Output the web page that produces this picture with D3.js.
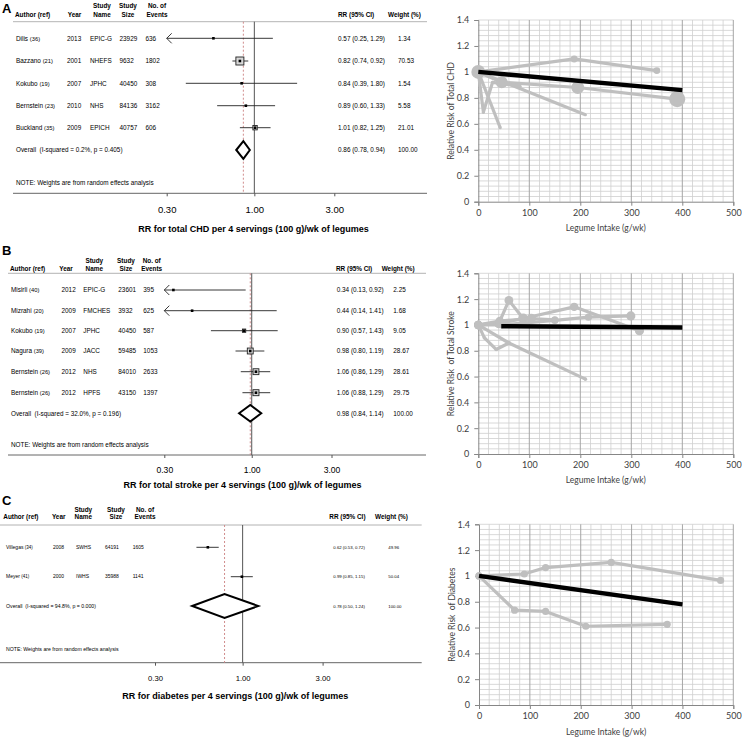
<!DOCTYPE html>
<html>
<head>
<meta charset="utf-8">
<script src="https://cdn.jsdelivr.net/npm/d3@7"></script>
<style>
  body { margin: 0; background: #fff; }
  svg { display: block; }
  .fp text { font-family: "Liberation Sans", Arial, sans-serif; fill: #000; }
  .dr text { font-family: Lato, "Open Sans", sans-serif; fill: #404040; }
</style>
</head>
<body>
<svg id="fig" width="742" height="737"></svg>
<script>
// ---------- forest plot data ----------
const headTop = ["", "", "Study", "Study", "No. of", "", ""];
const headBottom = ["Author (ref)", "Year", "Name", "Size", "Events", "RR (95% CI)", "Weight (%)"];
const noteText = "NOTE: Weights are from random effects analysis";
const forestTicks = [0.3, 1, 3];
const totalWeight = 100;

// A: total CHD
const chdAuthors = ["Dilis", "Bazzano", "Kokubo", "Bernstein", "Buckland"];
const chdRefs = ["(36)", "(21)", "(19)", "(23)", "(35)"];
const chdYears = [2013, 2001, 2007, 2010, 2009];
const chdStudy = ["EPIC-G", "NHEFS", "JPHC", "NHS", "EPICH"];
const chdSize = [23929, 9632, 40450, 84136, 40757];
const chdEvents = [636, 1802, 308, 3162, 606];
const chdRR = [0.57, 0.82, 0.84, 0.89, 1.01];
const chdLo = [0.25, 0.74, 0.39, 0.60, 0.82];
const chdHi = [1.29, 0.92, 1.80, 1.33, 1.25];
const chdWeight = [1.34, 70.53, 1.54, 5.58, 21.01];
const chdOverall = [0.86, 0.78, 0.94];
const chdHet = ["0.2%", "0.405"];

// B: total stroke
const strAuthors = ["Misirli", "Mizrahi", "Kokubo", "Nagura", "Bernstein", "Bernstein"];
const strRefs = ["(40)", "(20)", "(19)", "(39)", "(26)", "(26)"];
const strYears = [2012, 2009, 2007, 2009, 2012, 2012];
const strStudy = ["EPIC-G", "FMCHES", "JPHC", "JACC", "NHS", "HPFS"];
const strSize = [23601, 3932, 40450, 59485, 84010, 43150];
const strEvents = [395, 625, 587, 1053, 2633, 1397];
const strRR = [0.34, 0.44, 0.90, 0.98, 1.06, 1.06];
const strLo = [0.13, 0.14, 0.57, 0.80, 0.86, 0.88];
const strHi = [0.92, 1.41, 1.43, 1.19, 1.29, 1.29];
const strWeight = [2.25, 1.68, 9.05, 28.67, 28.61, 29.75];
const strOverall = [0.98, 0.84, 1.14];
const strHet = ["32.0%", "0.196"];

// C: diabetes
const diaAuthors = ["Villegas", "Meyer"];
const diaRefs = ["(34)", "(41)"];
const diaYears = [2008, 2000];
const diaStudy = ["SWHS", "IWHS"];
const diaSize = [64191, 35988];
const diaEvents = [1605, 1141];
const diaRR = [0.62, 0.99];
const diaLo = [0.53, 0.85];
const diaHi = [0.72, 1.15];
const diaWeight = [49.96, 50.04];
const diaOverall = [0.78, 0.50, 1.24];
const diaHet = ["94.8%", "0.000"];

// ---------- dose-response data (intake g/wk, relative risk, point weight) ----------
const chdIntake = [[0, 188, 350], [0, 46, 195, 390], [0, 210], [0, 10, 28, 82], [0, 43]];
const chdRisk = [[1, 1.10, 1.01], [1, 0.92, 0.88, 0.79], [1, 0.67], [1, 0.69, 0.92, 0.89], [1, 0.57]];
const chdPtW = [[0.15, 0.15, 0.15], [0.6, 0.45, 0.52, 0.8], [0.03, 0.03], [0.03, 0.03, 0.03, 0.03], [0.03, 0.03]];
const chdTrendX = [0, 400];
const chdTrendRR = [1, 0.86];

const strIntake = [[0, 40, 60, 88], [0, 40, 88, 188, 316], [0, 45, 150, 216, 299], [0, 12, 35, 60], [0, 60, 210], [0, 42, 104, 150]];
const strRisk = [[1, 1.01, 1.19, 1.05], [1, 1.01, 1.05, 1.14, 0.955], [1, 1.0, 1.035, 1.06, 1.07], [1, 0.90, 0.81, 0.86], [1, 0.86, 0.58], [1, 1.03, 1.05, 1.04]];
const strPtW = [[0.22, 0.2, 0.24, 0.2], [0.22, 0.25, 0.3, 0.22, 0.26], [0.22, 0.14, 0.16, 0.16, 0.26], [0.22, 0.04, 0.04, 0.05], [0.22, 0.05, 0.04], [0.22, 0.22, 0.27, 0.16]];
const strTrendX = [45, 400];
const strTrendRR = [0.99, 0.98];

const diaIntake = [[0, 89, 131, 260, 475], [0, 70, 131, 210, 370]];
const diaRisk = [[1, 1.015, 1.065, 1.105, 0.965], [1, 0.735, 0.725, 0.61, 0.625]];
const diaPtW = [[0.16, 0.16, 0.16, 0.16, 0.16], [0.16, 0.16, 0.16, 0.16, 0.16]];
const diaTrendX = [0, 400];
const diaTrendRR = [1, 0.78];

const svg = d3.select("#fig");
const f2 = d3.format(".2f");

function drawForest(d, L) {
    const g = svg.append("g").attr("class", "fp");
    const x = d3.scaleLog().domain([0.3, 3]).range(L.range);
    const n = d.rr.length;

    g.append("text").attr("x", 2).attr("y", L.letterY)
        .attr("font-size", 13).attr("font-weight", "bold").text(d.letter);

    // column headers
    const anchors = ["start", "middle", "middle", "middle", "middle", "start", "start"];
    headBottom.forEach((t, i) => {
        g.append("text").attr("x", L.hx[i]).attr("y", L.h1).attr("text-anchor", anchors[i])
            .attr("font-size", 6.4).attr("font-weight", "bold").text(headTop[i]);
        g.append("text").attr("x", L.hx[i]).attr("y", L.h2).attr("text-anchor", anchors[i])
            .attr("font-size", 6.4).attr("font-weight", "bold").text(t);
    });

    // rules
    g.append("line").attr("x1", L.lineX[0]).attr("x2", L.lineX[1])
        .attr("y1", L.ruleY).attr("y2", L.ruleY).attr("stroke", "#a0a0a0").attr("stroke-width", 0.8);
    g.append("line").attr("x1", L.lineX[0]).attr("x2", L.lineX[1])
        .attr("y1", L.axisY).attr("y2", L.axisY).attr("stroke", "#555").attr("stroke-width", 0.9);

    // reference lines
    g.append("line").attr("x1", x(1)).attr("x2", x(1))
        .attr("y1", L.ruleY).attr("y2", L.axisY).attr("stroke", "#555").attr("stroke-width", 1);
    g.append("line").attr("x1", x(d.overall[0])).attr("x2", x(d.overall[0]))
        .attr("y1", L.ruleY).attr("y2", L.axisY).attr("stroke", "#d08c8c")
        .attr("stroke-width", 1).attr("stroke-dasharray", "2,2");

    // row texts
    const fs = L.fRow;
    for (let i = 0; i < n; i++) {
        const yb = L.rows[i] + fs * 0.35;
        const a = g.append("text").attr("x", L.vx[0]).attr("y", yb).attr("font-size", fs);
        a.append("tspan").text(d.authors[i] + " ");
        a.append("tspan").attr("font-size", fs * 0.9).text(d.refs[i]);
        const cells = [d.years[i], d.study[i], d.size[i], d.events[i]];
        cells.forEach((c, j) => {
            g.append("text").attr("x", L.vx[j + 1]).attr("y", yb).attr("font-size", fs).text(c);
        });
        g.append("text").attr("x", L.vx[5]).attr("y", L.rows[i] + L.fRR * 0.35).attr("font-size", L.fRR)
            .text(`${f2(d.rr[i])} (${f2(d.lo[i])}, ${f2(d.hi[i])})`);
        g.append("text").attr("x", L.vx[6]).attr("y", L.rows[i] + L.fRR * 0.35).attr("font-size", L.fRR)
            .text(f2(d.weight[i]));
    }
    g.append("text").attr("x", L.vx[0]).attr("y", L.overallY + L.fNote * 0.35).attr("font-size", L.fNote)
        .attr("xml:space", "preserve")
        .text(`Overall  (I-squared = ${d.het[0]}, p = ${d.het[1]})`);
    g.append("text").attr("x", L.vx[5]).attr("y", L.overallY + L.fRR * 0.35).attr("font-size", L.fRR)
        .text(`${f2(d.overall[0])} (${f2(d.overall[1])}, ${f2(d.overall[2])})`);
    g.append("text").attr("x", L.vx[6]).attr("y", L.overallY + L.fRR * 0.35).attr("font-size", L.fRR)
        .text(f2(totalWeight));
    g.append("text").attr("x", L.vx[0]).attr("y", L.noteY + L.fNote * 0.35).attr("font-size", L.fNote)
        .text(noteText);

    // CI lines, boxes, points
    const maxW = d3.max(d.weight);
    for (let i = 0; i < n; i++) {
        const yc = L.rows[i];
        const lo = Math.max(d.lo[i], 0.3);
        g.append("line").attr("x1", x(lo)).attr("x2", x(d.hi[i])).attr("y1", yc).attr("y2", yc)
            .attr("stroke", "#222").attr("stroke-width", 0.9);
        if (d.lo[i] < 0.3) {
            const ax = x(0.3);
            g.append("path").attr("d", `M${ax + 5},${yc - 5}L${ax},${yc}L${ax + 5},${yc + 5}`)
                .attr("fill", "none").attr("stroke", "#222").attr("stroke-width", 0.9);
        }
        const s = L.boxMax * Math.sqrt(d.weight[i] / maxW);
        if (s > 3) {
            g.append("rect").attr("x", x(d.rr[i]) - s / 2).attr("y", yc - s / 2)
                .attr("width", s).attr("height", s)
                .attr("fill", "#d8d8d8").attr("stroke", "#222").attr("stroke-width", 0.9);
        }
        g.append("rect").attr("x", x(d.rr[i]) - 1.3).attr("y", yc - 1.3)
            .attr("width", 2.6).attr("height", 2.6).attr("fill", "#000");
    }

    // pooled diamond
    const ov = d.overall, hh = L.diamondH;
    g.append("path")
        .attr("d", `M${x(ov[1])},${L.overallY}L${x(ov[0])},${L.overallY - hh}L${x(ov[2])},${L.overallY}L${x(ov[0])},${L.overallY + hh}Z`)
        .attr("fill", "#fff").attr("stroke", "#000").attr("stroke-width", 2);

    // axis
    g.append("g").attr("transform", `translate(0,${L.axisY})`)
        .call(d3.axisBottom(x).tickValues(forestTicks).tickFormat(f2).tickSize(3))
        .call(a => a.select(".domain").remove())
        .call(a => a.selectAll(".tick line").attr("stroke", "#555"))
        .call(a => a.selectAll(".tick text").attr("y", L.tickOff).attr("dy", 0)
            .attr("font-size", L.fTick).attr("font-family", "Liberation Sans, Arial, sans-serif").attr("fill", "#000"));

    g.append("text").attr("x", L.titleX).attr("y", L.titleY).attr("text-anchor", "middle")
        .attr("font-size", 9).attr("font-weight", "bold").text(d.title);
}

function drawDose(L, xs, ys, ws, tx, ty, ylab) {
    const g = svg.append("g").attr("class", "dr");
    const x = d3.scaleLinear().domain([0, 500]).range([L.x0, L.x1]);
    const y = d3.scaleLinear().domain([0, 1.4]).range([L.yb, L.yt]);
    const r = d3.scaleSqrt().domain([0, 1]).range([0, 9]);

    // grid
    g.append("g").selectAll("line").data(d3.range(1, 36).map(i => i * 0.04)).join("line")
        .attr("x1", L.x0).attr("x2", L.x1).attr("y1", d => y(d)).attr("y2", d => y(d))
        .attr("stroke", "#cfcfcf").attr("stroke-width", 0.8);
    g.append("g").selectAll("line").data(d3.range(20, 501, 20).filter(v => v % 100)).join("line")
        .attr("x1", d => x(d)).attr("x2", d => x(d)).attr("y1", L.yt).attr("y2", L.yb)
        .attr("stroke", "#cfcfcf").attr("stroke-width", 0.8);
    g.append("g").selectAll("line").data([100, 200, 300, 400, 500]).join("line")
        .attr("x1", d => x(d)).attr("x2", d => x(d)).attr("y1", L.yt).attr("y2", L.yb)
        .attr("stroke", "#a6a6a6").attr("stroke-width", 1);

    // axes
    g.append("g").attr("transform", `translate(${L.x0},0)`)
        .call(d3.axisLeft(y).tickValues(d3.range(0, 8).map(i => i * 0.2))
            .tickFormat(v => String(+v.toFixed(1))).tickSize(4).tickPadding(5))
        .call(a => a.select(".domain").attr("stroke", "#868686"))
        .call(a => a.selectAll(".tick line").attr("stroke", "#868686"))
        .call(a => a.selectAll(".tick text").attr("font-size", 9)
            .attr("font-family", "Lato, sans-serif").attr("fill", "#404040"));
    g.append("g").attr("transform", `translate(0,${L.yb})`)
        .call(d3.axisBottom(x).tickValues(d3.range(0, 501, 100)).tickSize(4).tickPadding(4))
        .call(a => a.select(".domain").attr("stroke", "#868686"))
        .call(a => a.selectAll(".tick line").attr("stroke", "#868686"))
        .call(a => a.selectAll(".tick text").attr("font-size", 9)
            .attr("font-family", "Lato, sans-serif").attr("fill", "#404040"));

    // study curves
    const line = d3.line().x(p => x(p[0])).y(p => y(p[1]));
    xs.forEach((sx, k) => {
        const pts = sx.map((v, i) => [v, ys[k][i], ws[k][i]]);
        g.append("path").datum(pts).attr("d", line)
            .attr("fill", "none").attr("stroke", "#bfbfbf").attr("stroke-width", 3.2)
            .attr("stroke-linejoin", "round");
        g.append("g").selectAll("circle").data(pts).join("circle")
            .attr("cx", p => x(p[0])).attr("cy", p => y(p[1])).attr("r", p => r(p[2]))
            .attr("fill", "#bfbfbf");
    });

    // pooled trend
    g.append("path").datum(tx.map((v, i) => [v, ty[i]])).attr("d", line)
        .attr("fill", "none").attr("stroke", "#000").attr("stroke-width", 4.4);

    g.append("text").attr("x", (L.x0 + L.x1) / 2).attr("y", L.xtY).attr("text-anchor", "middle")
        .attr("font-size", 8.5).text("Legume Intake (g/wk)");
    g.append("text").attr("transform", `translate(${L.x0 - 24},${(L.yt + L.yb) / 2}) rotate(-90)`)
        .attr("text-anchor", "middle").attr("font-size", 8.5).attr("xml:space", "preserve").text(ylab);
}

drawForest({
    letter: "A", authors: chdAuthors, refs: chdRefs, years: chdYears, study: chdStudy, size: chdSize,
    events: chdEvents, rr: chdRR, lo: chdLo, hi: chdHi, weight: chdWeight, overall: chdOverall, het: chdHet,
    title: "RR for total CHD per 4 servings (100 g)/wk of legumes"
}, {
    letterY: 13, h1: 8.3, h2: 16.6,
    hx: [15, 74.5, 102, 128, 157, 338, 388],
    vx: [16, 67, 90, 119.5, 145.5, 338, 398],
    ruleY: 21.7, axisY: 193.3, lineX: [13, 427],
    rows: [38.3, 61, 83.3, 105.7, 127.7], overallY: 150, noteY: 183,
    range: [166.7, 334.3], tickOff: 19.5, fTick: 9.5,
    titleX: 253.5, titleY: 232,
    fRow: 6.4, fRR: 6.4, fNote: 6.35, boxMax: 8, diamondH: 8.8
});

drawForest({
    letter: "B", authors: strAuthors, refs: strRefs, years: strYears, study: strStudy, size: strSize,
    events: strEvents, rr: strRR, lo: strLo, hi: strHi, weight: strWeight, overall: strOverall, het: strHet,
    title: "RR for total stroke per 4 servings (100 g)/wk of legumes"
}, {
    letterY: 255, h1: 263.3, h2: 270.6,
    hx: [10, 66, 94.3, 126, 151.7, 336, 381.7],
    vx: [11, 61.5, 83.3, 118.3, 143.3, 336.7, 393.3],
    ruleY: 273.3, axisY: 455, lineX: [8, 426],
    rows: [290, 310.7, 330.7, 351, 371.7, 392.7], overallY: 413.3, noteY: 445,
    range: [164.3, 331.5], tickOff: 17.7, fTick: 8.6,
    titleX: 242.5, titleY: 488,
    fRow: 6.4, fRR: 6.4, fNote: 6.35, boxMax: 6, diamondH: 8.3
});

drawForest({
    letter: "C", authors: diaAuthors, refs: diaRefs, years: diaYears, study: diaStudy, size: diaSize,
    events: diaEvents, rr: diaRR, lo: diaLo, hi: diaHi, weight: diaWeight, overall: diaOverall, het: diaHet,
    title: "RR for diabetes per 4 servings (100 g)/wk of legumes"
}, {
    letterY: 505, h1: 512.3, h2: 519.3,
    hx: [3.3, 58.7, 83.3, 116, 145, 329.3, 375],
    vx: [6, 53, 76, 105, 132.7, 333.3, 388.3],
    ruleY: 525, axisY: 662.7, lineX: [0, 421.7],
    rows: [547.3, 576.7], overallY: 606, noteY: 649.3,
    range: [155, 322.6], tickOff: 18.3, fTick: 7.7,
    titleX: 235.3, titleY: 699,
    fRow: 5, fRR: 4.3, fNote: 5.2, boxMax: 0, diamondH: 12
});

drawDose({ x0: 478.3, x1: 733.3, yt: 20, yb: 201.7, xtY: 231 },
    chdIntake, chdRisk, chdPtW, chdTrendX, chdTrendRR, "Relative Risk of Total CHD");
drawDose({ x0: 478.3, x1: 733.3, yt: 273.3, yb: 454, xtY: 482.5 },
    strIntake, strRisk, strPtW, strTrendX, strTrendRR, "Relative Risk  of Total Stroke");
drawDose({ x0: 479, x1: 733.3, yt: 524.3, yb: 705, xtY: 734.5 },
    diaIntake, diaRisk, diaPtW, diaTrendX, diaTrendRR, "Relative Risk  of Diabetes");
</script>
</body>
</html>
